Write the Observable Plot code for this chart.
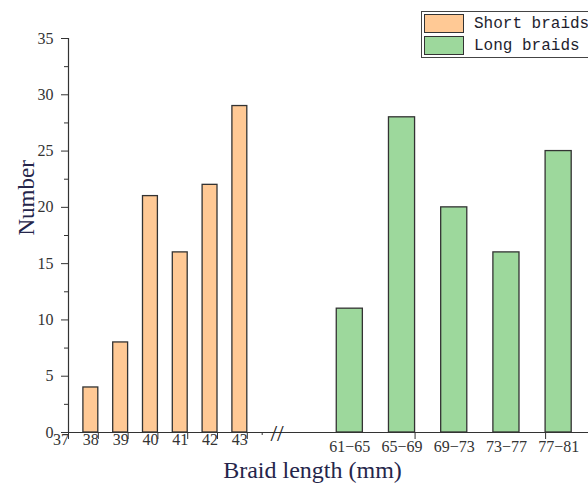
<!DOCTYPE html>
<html>
<head>
<meta charset="utf-8">
<script src="https://cdn.jsdelivr.net/npm/d3@7"></script>
<script src="https://cdn.jsdelivr.net/npm/@observablehq/plot@0.6"></script>
<style>
  html, body { margin: 0; padding: 0; background: #fff; }
  #wrap { position: relative; width: 588px; height: 484px; overflow: hidden; }
  #legend {
    position: absolute; left: 421px; top: 11px; width: 200px; height: 45px;
    border: 1px solid #444; background: #fff;
    font-family: "Liberation Mono", monospace; font-size: 16px; color: #1e1e2e;
  }
  .item { position: absolute; left: 2px; height: 19px; display: flex; align-items: center; }
  .sw { width: 38px; height: 17px; border: 1.5px solid #333; margin-right: 10px; }
</style>
</head>
<body>
<div id="wrap">
  <div id="chart"></div>
  <div id="legend"></div>
</div>
<script>
// ---- data ----
const shortLengths = [38, 39, 40, 41, 42, 43];
const shortCounts = [4, 8, 21, 16, 22, 29];
const longRanges = ["61−65", "65−69", "69−73", "73−77", "77−81"];
const longMids = [63, 67, 71, 75, 79];
const longCounts = [11, 28, 20, 16, 25];
const leftTickValues = [37, 38, 39, 40, 41, 42, 43];
const rightTickValues = [68, 78];
const yTickValues = [0, 5, 10, 15, 20, 25, 30, 35];
const yMinorValues = [2.5, 7.5, 12.5, 17.5, 22.5, 27.5, 32.5];
const seriesNames = ["Short braids", "Long braids"];
const seriesColors = ["#FFC995", "#9DD89C"];

// ---- broken-axis layout (left segment in mm; right segment compressed) ----
const rightStart = 46.44, rightScale = 0.438;
const longPos = m => rightStart + (m - 63) * rightScale;
const breakPos = 44.0;

const shortData = shortLengths.map((len, i) => ({len, count: shortCounts[i]}));
const longData = longRanges.map((r, i) => ({range: r, mid: longMids[i], count: longCounts[i]}));

const ink = "#333";
const titleColor = "#25254a";

const chart = Plot.plot({
  width: 588,
  height: 484,
  marginLeft: 68,
  marginRight: 0,
  marginTop: 38,
  marginBottom: 52,
  style: {fontFamily: "Liberation Serif, serif", fontSize: "16px", color: ink, background: "#fff"},
  x: {type: "linear", domain: [37, 37 + (588 - 68) / 29.8], axis: null},
  y: {domain: [0, 35], axis: null},
  marks: [
    Plot.rect(shortData, {x1: d => d.len - 0.5, x2: d => d.len, y1: 0, y2: "count",
      fill: seriesColors[0], stroke: ink, strokeWidth: 1.3}),
    Plot.rect(longData, {x1: d => longPos(d.mid - 1), x2: d => longPos(d.mid + 1), y1: 0, y2: "count",
      fill: seriesColors[1], stroke: ink, strokeWidth: 1.3}),
    // axis lines
    Plot.ruleX([37], {stroke: ink, strokeWidth: 1.2}),
    Plot.ruleY([0], {stroke: ink, strokeWidth: 1.2}),
    // y axis ticks + labels
    Plot.axisY({ticks: yTickValues, tickSize: 7, tickPadding: 8, label: null, fontSize: 16, stroke: ink, fill: ink}),
    Plot.axisY({ticks: yMinorValues, tickSize: 4, tickFormat: () => "", label: null, stroke: ink}),
    // x axis ticks
    Plot.axisX({ticks: leftTickValues, tickSize: 7, tickFormat: () => "", label: null, stroke: ink}),
    Plot.axisX({ticks: [43.5], tickSize: 3, tickFormat: () => "", label: null, stroke: ink}),
    Plot.axisX({ticks: rightTickValues.map(longPos), tickSize: 7, tickFormat: () => "", label: null, stroke: ink}),
    // x tick labels
    Plot.text(leftTickValues, {x: d => d - 0.25, y: 0, text: d => String(d), lineAnchor: "top", dy: 1, fontSize: 16, fill: ink}),
    Plot.text(longData, {x: d => longPos(d.mid), y: 0, text: "range", lineAnchor: "top", dy: 8, fontSize: 16, fill: ink}),
    // axis break
    Plot.text(["//"], {x: breakPos, y: 0, text: d => d, fontSize: 24, fill: "#222", dy: 1}),
    // titles
    Plot.text(["Braid length (mm)"], {frameAnchor: "bottom", text: d => d, lineAnchor: "bottom", dx: -16, dy: 45, fontSize: 24, fill: titleColor}),
    Plot.text(["Number"], {frameAnchor: "left", text: d => d, rotate: -90, lineAnchor: "bottom", dx: -35, dy: 0, fontSize: 23, fill: titleColor})
  ]
});
document.getElementById("chart").appendChild(chart);

// legend
const legend = document.getElementById("legend");
seriesNames.forEach((name, i) => {
  const item = document.createElement("div");
  item.className = "item";
  item.style.top = (2 + i * 22) + "px";
  const sw = document.createElement("div");
  sw.className = "sw";
  sw.style.background = seriesColors[i];
  const label = document.createElement("span");
  label.textContent = name;
  item.appendChild(sw);
  item.appendChild(label);
  legend.appendChild(item);
});
</script>
</body>
</html>
